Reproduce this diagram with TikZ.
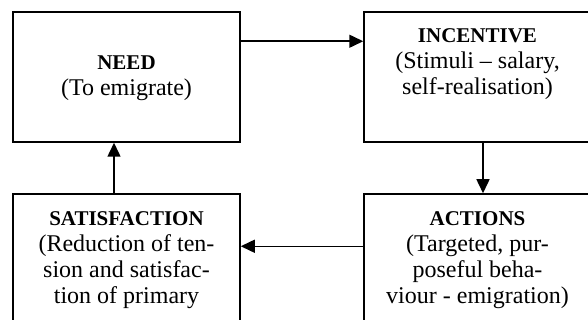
\documentclass[tikz,border=0pt]{standalone}
\usepackage{fontspec}
\setmainfont{Liberation Serif}
\usetikzlibrary{arrows.meta}

\newcommand{\boxhead}[1]{{\fontsize{21}{26}\selectfont\bfseries #1}}

\tikzstyle{box} = [draw, line width=1.5pt, minimum width=227pt, minimum height=130pt, inner sep=0pt]
\tikzstyle{boxtext} = [align=center, inner sep=0pt, font=\fontsize{24}{26}\selectfont]
\tikzstyle{link} = [line width=1.5pt, -{Triangle[length=14pt,width=13pt]}]

\begin{document}
\begin{tikzpicture}[x=1pt,y=-1pt]
  \useasboundingbox (0,0) rectangle (588,320);
  \clip (0,0) rectangle (588,320);

  \node[box] (need) at (126.5,77) {};
  \node[box] (incentive) at (477.5,77) {};
  \node[box, minimum height=160pt] (actions) at (477.5,274) {};
  \node[box, minimum height=160pt] (satisfaction) at (126.5,274) {};

  \node[boxtext] (needtext) at ([yshift=-1pt]need) {\boxhead{NEED}\\(To emigrate)};
  \node[boxtext, anchor=north] (incentivetext) at ([yshift=-17pt]incentive.north)
    {\boxhead{INCENTIVE}\\(Stimuli – salary,\\self-realisation)};
  \node[boxtext, anchor=north] (actionstext) at ([yshift=-18pt]actions.north)
    {\boxhead{ACTIONS}\\(Targeted, pur-\\poseful beha-\\viour - emigration)};
  \node[boxtext, anchor=north] (satisfactiontext) at ([yshift=-18pt]satisfaction.north)
    {\boxhead{SATISFACTION}\\(Reduction of ten-\\sion and satisfac-\\tion of primary};

  \draw[link] ([yshift=-30pt]need.north east) -- ([yshift=-30pt]incentive.north west);
  \draw[link] ([xshift=5.5pt]incentive.south) -- ([xshift=5.5pt]actions.north);
  \draw[link] ([yshift=-53pt]actions.north west) -- ([yshift=-53pt]satisfaction.north east);
  \draw[link] ([xshift=-12.5pt]satisfaction.north) -- ([xshift=-12.5pt]need.south);
\end{tikzpicture}
\end{document}
